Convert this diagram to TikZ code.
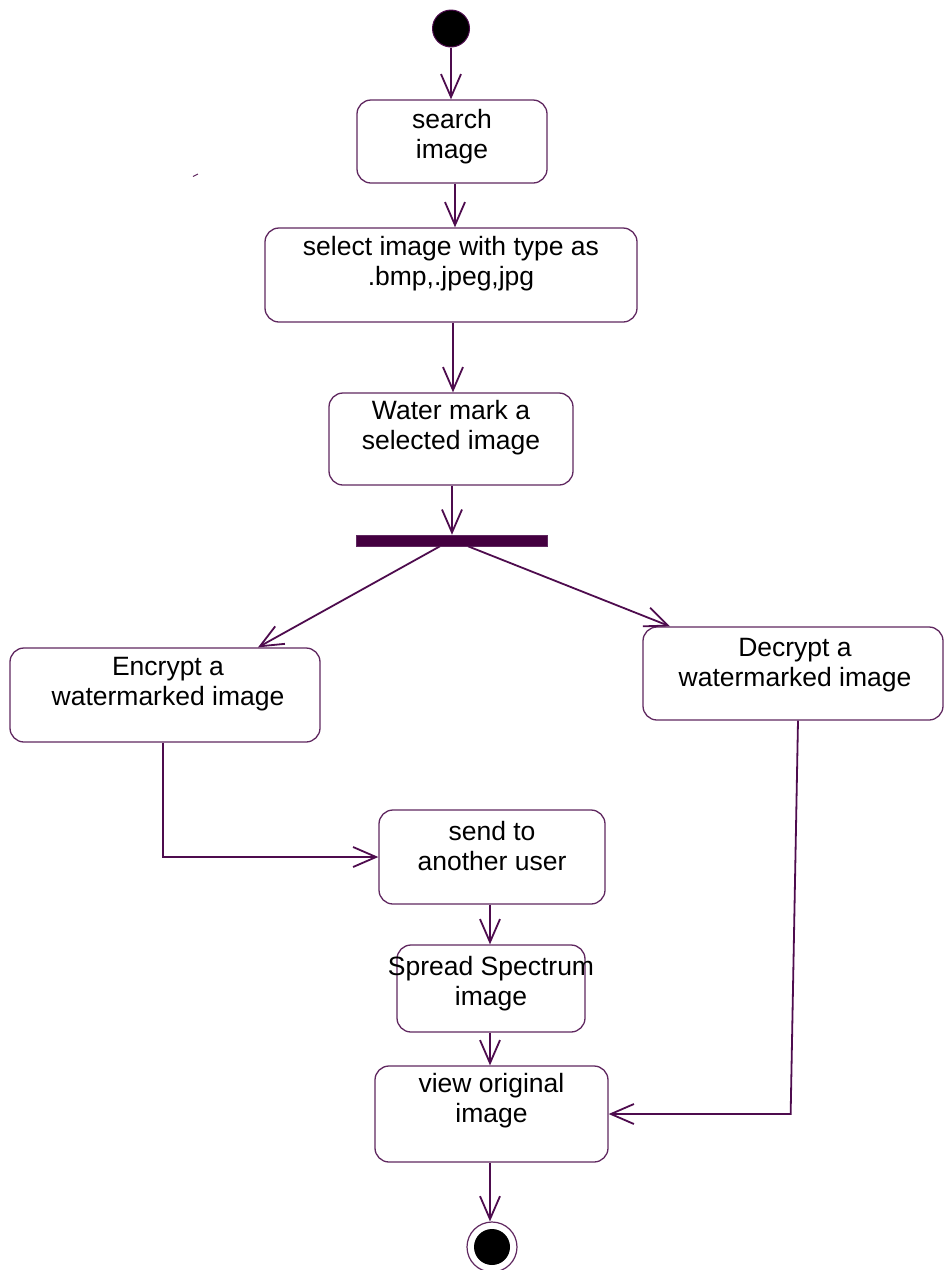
\documentclass[tikz,border=0pt]{standalone}
\usepackage{fontspec}
\setmainfont{Liberation Sans}
\usetikzlibrary{arrows.meta}
\definecolor{lineC}{RGB}{78,12,78}
\definecolor{boxC}{RGB}{96,40,96}
\definecolor{barC}{RGB}{68,0,64}
\tikzset{
  actbox/.style={draw=boxC, line width=1.3pt, rounded corners=14pt, inner sep=0pt, fill=white},
  txt/.style={font=\fontsize{26.5}{30}\selectfont, align=center, inner sep=0pt, text=black},
  arr/.style={draw=lineC, line width=1.8pt, -{Straight Barb[length=23pt, width=20pt, line width=1.8pt]}},
  conn/.style={draw=lineC, line width=1.8pt},
}
\begin{document}
\begin{tikzpicture}[x=1pt,y=-1pt]
\useasboundingbox (0,0) rectangle (944,1270);
% start / end
\node[circle, draw=lineC, fill=black, line width=1pt, minimum size=37pt, inner sep=0pt] (start) at (451,28.5) {};
\node[circle, draw=boxC, fill=white, line width=1.2pt, minimum size=50pt, inner sep=0pt] (endo) at (492,1247) {};
\node[circle, fill=black, minimum size=36pt, inner sep=0pt] (endi) at (492,1247) {};
% boxes
\node[actbox, minimum width=190pt, minimum height=83pt] (search) at (452,141.5) {};
\node[txt] (searcht) at (452,137) {search\\image};
\node[actbox, minimum width=372pt, minimum height=94pt] (select) at (451,275) {};
\node[txt] (selectt) at (451,264) {select image with type as\\.bmp,.jpeg,jpg};
\node[actbox, minimum width=244pt, minimum height=92pt] (water) at (451,439) {};
\node[txt] (watert) at (451,428) {Water mark a\\selected image};
\node[rectangle, fill=barC, draw=boxC, line width=0.5pt, minimum width=191pt, minimum height=11pt, inner sep=0pt] (bar) at (451.5,540.5) {};
\node[actbox, minimum width=310pt, minimum height=94pt] (enc) at (165,695) {};
\node[txt] (enct) at (168,684) {Encrypt a\\watermarked image};
\node[actbox, minimum width=300pt, minimum height=93pt] (dec) at (793,673.5) {};
\node[txt] (dect) at (795,665) {Decrypt a\\watermarked image};
\node[actbox, minimum width=226pt, minimum height=94pt] (send) at (492,857) {};
\node[txt] (sendt) at (492,846) {send to\\another user};
\node[actbox, minimum width=188pt, minimum height=87pt] (spread) at (491,988.5) {};
\node[txt] (spreadt) at (491,984) {Spread Spectrum\\image};
\node[actbox, minimum width=233pt, minimum height=96pt] (view) at (491.5,1114) {};
\node[txt] (viewt) at (491.5,1101) {view original\\image};
% connectors
\draw[arr] (start) -- (start |- search.north);
\draw[arr] ([xshift=3pt]search.south) -- ([xshift=3pt]search.south |- select.north);
\draw[arr] ([xshift=2pt]select.south) -- ([xshift=2pt]select.south |- water.north);
\draw[arr] ([xshift=1pt]water.south) -- ([xshift=1pt]water.south |- bar.north);
\draw[arr] ([xshift=-11.5pt]bar.south) -- ([xshift=93pt]enc.north);
\draw[arr] ([xshift=16.5pt]bar.south) -- ([xshift=-123pt]dec.north);
\draw[arr] ([xshift=-2pt]enc.south) |- (send.west);
\draw[arr] ([xshift=5pt]dec.south) -- ([xshift=182pt]view.east) -- (view.east);
\draw[arr] ([xshift=-2pt]send.south) -- ([xshift=-2pt]send.south |- spread.north);
\draw[arr] ([xshift=-1pt]spread.south) -- ([xshift=-1pt]spread.south |- view.north);
\draw[arr] ([xshift=-1.5pt]view.south) -- ([xshift=-1.5pt]view.south |- endo.north);
% stray mark
\draw[draw=boxC, line width=1pt] (193,176.5) -- (198,174);
\end{tikzpicture}
\end{document}
